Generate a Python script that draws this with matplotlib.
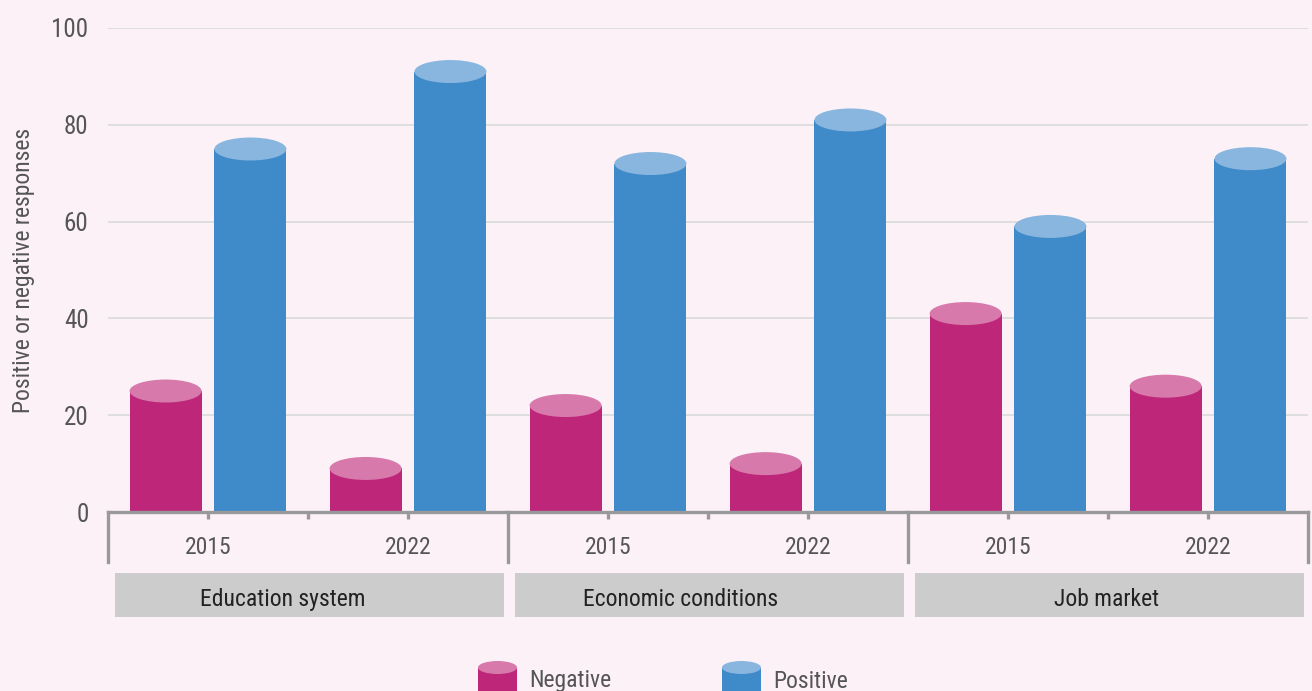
import matplotlib
matplotlib.use("Agg")
import matplotlib.pyplot as plt
from matplotlib.patches import Ellipse, Rectangle
from matplotlib.lines import Line2D
import matplotlib.transforms as mtransforms
import numpy as np

plt.rcParams['font.family'] = ['Roboto Condensed', 'Roboto', 'DejaVu Sans']

# data
groups = ["Education system", "Economic conditions", "Job market"]
years = ["2015", "2022"]
negative = [25, 9, 22, 10, 41, 26]
positive = [75, 91, 72, 81, 59, 73]

BG = "#fcf1f7"
NEG_BODY, NEG_TOP = "#be267a", "#d779ab"
POS_BODY, POS_TOP = "#3f8bc9", "#89b6df"
AXIS_GREY = "#999999"
TXT = "#555555"

fig = plt.figure(figsize=(13.12, 6.91), dpi=100, facecolor=BG)
ax = fig.add_axes([0.0823, 0.259, 0.9147, 0.7005], facecolor=BG)

x = np.arange(len(negative))
bw = 0.36
off = 0.212
cap_h = 4.75  # ellipse height in data units

ax.bar(x - off, negative, width=bw, color=NEG_BODY, zorder=3)
ax.bar(x + off, positive, width=bw, color=POS_BODY, zorder=3)
for xi, v in zip(x - off, negative):
    ax.add_patch(Ellipse((xi, v), bw, cap_h, color=NEG_TOP, zorder=4, lw=0))
for xi, v in zip(x + off, positive):
    ax.add_patch(Ellipse((xi, v), bw, cap_h, color=POS_TOP, zorder=4, lw=0))

ax.set_xlim(-0.5, len(x) - 0.5)
ax.set_ylim(0, 100)
ax.set_yticks([0, 20, 40, 60, 80, 100])
ax.grid(axis='y', color="#dcdcdc", lw=1.3, zorder=0)
ax.tick_params(axis='y', length=0, pad=14, labelsize=18, labelcolor=TXT)
ax.set_ylabel("Positive or negative responses", fontsize=17, color=TXT, labelpad=12)

for s in ['top', 'right', 'left']:
    ax.spines[s].set_visible(False)
ax.spines['bottom'].set_color(AXIS_GREY)
ax.spines['bottom'].set_linewidth(2.4)
ax.spines['bottom'].set_zorder(5)

ax.set_xticks(x)
ax.set_xticklabels(years * len(groups))
ax.set_xticks(np.arange(1, len(x), 2) - 0.5, minor=True)
ax.tick_params(axis='x', which='both', length=5, width=2.4, color=AXIS_GREY,
               pad=12, labelsize=17, labelcolor=TXT)

trans = mtransforms.blended_transform_factory(ax.transData, ax.transAxes)
for g in range(len(groups) + 1):
    xb = g * 2 - 0.5
    ax.add_line(Line2D([xb, xb], [0, -0.103], transform=trans, color=AXIS_GREY,
                       lw=2.4, clip_on=False, zorder=5))
# group labels sit a little left of the box centre in the original
label_shift = [-0.125, -0.137, -0.005]
for g, name in enumerate(groups):
    x0 = g * 2 - 0.5
    ax.add_patch(Rectangle((x0 + 0.035, -0.217), 2 - 0.055, 0.091, transform=trans,
                           facecolor="#cccccc", edgecolor='none', clip_on=False))
    ax.text(x0 + 1 + label_shift[g], -0.18, name, transform=trans, ha='center',
            va='center', fontsize=17, color="#222222")

# legend at the bottom
W, H = 1312, 691
def legend_item(cx, body, top, label):
    w, eh = 39, 13
    fig.add_artist(Rectangle(((cx - w / 2) / W, 0), w / W, (H - 667.5) / H,
                             transform=fig.transFigure, color=body, lw=0))
    fig.add_artist(Ellipse((cx / W, 1 - 667.5 / H), w / W, eh / H,
                           transform=fig.transFigure, color=top, lw=0))
    fig.text((cx + 31.5) / W, 1 - 681 / H, label, fontsize=17, color=TXT,
             ha='left', va='center')

legend_item(497.5, NEG_BODY, NEG_TOP, "Negative")
legend_item(741.5, POS_BODY, POS_TOP, "Positive")

fig.savefig("out.png", dpi=100, facecolor=BG)
